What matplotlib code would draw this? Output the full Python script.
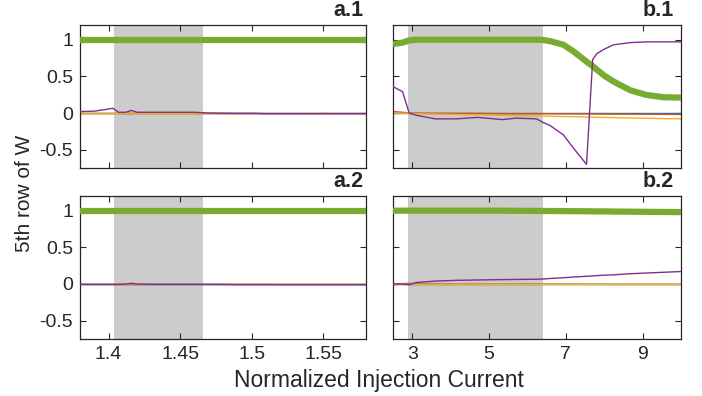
import matplotlib
matplotlib.use("Agg")
import matplotlib.pyplot as plt
import numpy as np

plt.rcParams['font.family'] = ['Liberation Sans', 'DejaVu Sans']

# matlab default colour order
colors = ['#0072BD', '#D95319', '#EDB120', '#7E2F8E', '#77AC30']

# ---- panel a (normalized current 1.38 .. 1.58)
xa = [1.38, 1.39, 1.397, 1.403, 1.407, 1.412, 1.416, 1.42, 1.43, 1.44, 1.46,
      1.47, 1.49, 1.50, 1.51, 1.52, 1.54, 1.55, 1.56, 1.58]
a1_blue = [0.0] * 20
a1_orange = [-0.005, -0.005, -0.005, -0.005, -0.005, -0.005, -0.005, -0.005, -0.005, -0.005,
             -0.005, -0.005, -0.005, -0.005, -0.005, -0.005, -0.005, -0.005, -0.005, -0.005]
a1_yellow = [-0.01, -0.01, -0.01, -0.01, -0.01, -0.005, 0.0, -0.01, -0.01, -0.01, -0.01,
             -0.01, -0.01, -0.005, -0.01, -0.01, -0.01, -0.005, -0.01, -0.01]
a1_purple = [0.02, 0.025, 0.045, 0.065, 0.01, 0.01, 0.035, 0.01, 0.01, 0.01, 0.01,
             0.0, -0.005, -0.005, -0.01, -0.01, -0.01, -0.01, -0.01, -0.01]
a1_green = [1.0] * 20

a2_blue = [0.0] * 20
a2_orange = [0.0, 0.0, 0.0, 0.0, 0.0, 0.0, 0.0, 0.0, 0.0, 0.0, 0.0,
             0.0, 0.0, 0.0, 0.0, 0.0, 0.0, 0.0, 0.0, 0.0]
a2_yellow = [-0.005, -0.005, -0.005, -0.005, -0.005, 0.0, 0.005, 0.0, -0.005, -0.005, -0.005,
             -0.005, -0.005, -0.005, -0.005, -0.005, -0.005, -0.005, -0.005, -0.005]
a2_purple = [-0.005, -0.005, -0.005, -0.005, -0.005, 0.0, 0.01, 0.0, -0.005, -0.005, -0.005,
             -0.005, -0.008, -0.008, -0.008, -0.01, -0.01, -0.01, -0.01, -0.01]
a2_green = [1.0] * 20

# ---- panel b (normalized current 2.5 .. 10)
xb = [2.5, 2.75, 2.92, 3.1, 3.6, 4.15, 4.7, 5.35, 5.7, 6.24, 6.41, 6.59, 6.94,
      7.2, 7.54, 7.70, 7.81, 8.0, 8.24, 8.68, 9.11, 9.55, 10.0]
b1_blue = [0.005] * 23
b1_orange = [0.02, 0.01, 0.0, 0.0, -0.005, -0.005, -0.005, -0.01, -0.01, -0.01, -0.01, -0.01,
             -0.012, -0.012, -0.013, -0.013, -0.014, -0.015, -0.015, -0.016, -0.017, -0.018, -0.02]
b1_yellow = [0.0, -0.003, -0.005, -0.008, -0.015, -0.02, -0.025, -0.033, -0.037, -0.04, -0.042,
             -0.045, -0.048, -0.05, -0.055, -0.057, -0.058, -0.06, -0.063, -0.068, -0.072, -0.076, -0.08]
b1_purple = [0.36, 0.29, 0.0, -0.03, -0.08, -0.08, -0.06, -0.09, -0.07, -0.08, -0.13, -0.17,
             -0.30, -0.48, -0.70, 0.73, 0.81, 0.87, 0.93, 0.96, 0.97, 0.97, 0.97]
b1_green = [0.94, 0.96, 0.99, 1.0, 1.0, 1.0, 1.0, 1.0, 1.0, 1.0, 0.995, 0.98, 0.93,
            0.84, 0.70, 0.64, 0.59, 0.51, 0.43, 0.31, 0.245, 0.215, 0.21]

b2_blue = [0.0] * 23
b2_orange = [0.0, 0.005, 0.01, 0.0, 0.0, -0.003, -0.003, -0.003, -0.003, -0.003, -0.003, -0.003,
             -0.003, -0.003, -0.004, -0.004, -0.004, -0.004, -0.005, -0.005, -0.005, -0.005, -0.005]
b2_yellow = [-0.005] * 23
b2_purple = [0.0, 0.0, -0.01, 0.02, 0.04, 0.05, 0.055, 0.06, 0.062, 0.065, 0.068, 0.075,
             0.085, 0.095, 0.105, 0.11, 0.115, 0.12, 0.125, 0.14, 0.15, 0.16, 0.17]
b2_green = [1.0, 1.0, 1.0, 1.0, 1.0, 1.0, 1.0, 1.0, 0.998, 0.997, 0.996, 0.995, 0.994,
            0.993, 0.992, 0.991, 0.99, 0.99, 0.988, 0.986, 0.984, 0.982, 0.98]

shade_a = (1.4037, 1.466)
shade_b = (2.9, 6.4)
labels = ['a.1', 'b.1', 'a.2', 'b.2']
xticks_a = [1.4, 1.45, 1.5, 1.55]
xticklabels_a = ['1.4', '1.45', '1.5', '1.55']
xticks_b = [3, 5, 7, 9]
yticks = [-0.5, 0, 0.5, 1]
yticklabels = ['-0.5', '0', '0.5', '1']

panels = [
    (xa, [a1_blue, a1_orange, a1_yellow, a1_purple, a1_green]),
    (xb, [b1_blue, b1_orange, b1_yellow, b1_purple, b1_green]),
    (xa, [a2_blue, a2_orange, a2_yellow, a2_purple, a2_green]),
    (xb, [b2_blue, b2_orange, b2_yellow, b2_purple, b2_green]),
]

fig = plt.figure(figsize=(7.02, 3.96), dpi=100)
W, H = 702.0, 396.0
boxes = [(80, 25, 286, 143), (393, 25, 288, 143),
         (80, 196, 286, 143), (393, 196, 288, 143)]
txt = '#262626'

for i, (x, ys) in enumerate(panels):
    l, t, w, h = boxes[i]
    ax = fig.add_axes([l / W, 1 - (t + h) / H, w / W, h / H])
    is_a = (i % 2 == 0)
    shade = shade_a if is_a else shade_b
    ax.axvspan(shade[0], shade[1], color='#CCCCCC', lw=0, zorder=0)
    for k, y in enumerate(ys):
        lw = 4.5 if k == 4 else 1.0
        z = 3 if k == 4 else (4 if k == 3 else 2)
        ax.plot(x, y, color=colors[k], lw=lw, zorder=z, solid_capstyle='butt')
    ax.set_ylim(-0.75, 1.2)
    ax.set_yticks(yticks)
    if is_a:
        ax.set_xlim(1.38, 1.58)
        ax.set_xticks(xticks_a)
        ax.set_xticklabels(xticklabels_a)
        ax.set_yticklabels(yticklabels)
    else:
        ax.set_xlim(2.5, 10)
        ax.set_xticks(xticks_b)
        ax.set_yticklabels([])
    if i < 2:
        ax.set_xticklabels([])
    ax.tick_params(direction='in', top=True, right=True, length=4, width=0.8,
                   labelsize=14, colors=txt, pad=5)
    for s in ax.spines.values():
        s.set_color(txt)
        s.set_linewidth(0.9)
    ax.text(0.99 if is_a else 0.975, 1.025, labels[i], transform=ax.transAxes,
            ha='right', va='bottom', fontsize=15.5, fontweight='bold', color=txt)

fig.text(379 / W, 1 - 381 / H, 'Normalized Injection Current', ha='center', va='center',
         fontsize=16.5, color=txt)
fig.text(25 / W, 1 - 193 / H, '5th row of W', ha='center', va='center', rotation=90,
         fontsize=15, color=txt)

fig.savefig('out.png', dpi=100)
